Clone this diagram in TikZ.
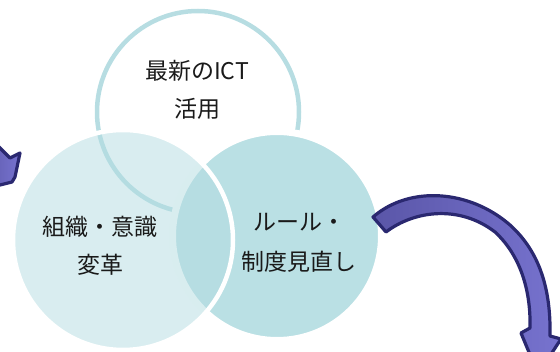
\documentclass[tikz,border=0pt]{standalone}
\usepackage{fontspec}
\newfontfamily\jp{Noto Sans CJK JP}
\definecolor{ringc}{HTML}{B7DDE2}
\definecolor{rightc}{HTML}{BAE0E4}
\definecolor{leftc}{HTML}{B3DCE1}
\definecolor{arrdark}{HTML}{5A56A8}
\definecolor{arrlight}{HTML}{7773CF}
\definecolor{arrline}{HTML}{2A2870}
\definecolor{txt}{HTML}{1A1A1A}
\tikzset{
  ringstyle/.style={draw=ringc, line width=4.5pt},
  rightcirc/.style={fill=rightc, draw=white, line width=7pt},
  leftcirc/.style={fill=leftc, fill opacity=0.5, draw=white, draw opacity=1, line width=4.5pt},
  bluearrow/.style={draw=arrline, line width=3.2pt, line join=round, left color=arrdark, right color=arrlight},
  label/.style={font=\jp\fontsize{23}{38}\selectfont, text=txt, align=center, inner sep=0pt}
}
\begin{document}
\begin{tikzpicture}[x=1pt,y=-1pt]
\useasboundingbox (0,0) rectangle (560,352);
\clip (0,0) rectangle (560,352);
% top ring
\coordinate (ctop) at (198,112);
\coordinate (cright) at (277,236);
\coordinate (cleft) at (123,240);
\draw[ringstyle] (ctop) circle[radius=101pt];
% right circle
\path[rightcirc] (cright) circle[radius=104.5pt];
% left circle
\path[leftcirc] (cleft) circle[radius=110pt];
% right curved arrow
\draw[bluearrow] (373,217) .. controls (410,185) and (470,190) .. (510,225)
  .. controls (540,252) and (551,290) .. (550,336) -- (561,339) -- (538,374)
  -- (521,333) -- (530,328)
  .. controls (531,290) and (520,255) .. (495,232)
  .. controls (460,205) and (415,210) .. (386,232) -- cycle;
% left arrow (partly outside the picture)
\draw[bluearrow] (-22,126) -- (10,158) -- (20,153) -- (15,177) -- (12,182) -- (0,185) -- (-22,190) -- cycle;
% labels
\node[label] (ict) at (197,90) {最新のICT\\活用};
\node[label] (org) at (100,246) {組織・意識\\変革};
\node[label, font=\jp\fontsize{23}{40}\selectfont] (rule) at (299,243) {ルール・\\制度見直し};
\end{tikzpicture}
\end{document}
